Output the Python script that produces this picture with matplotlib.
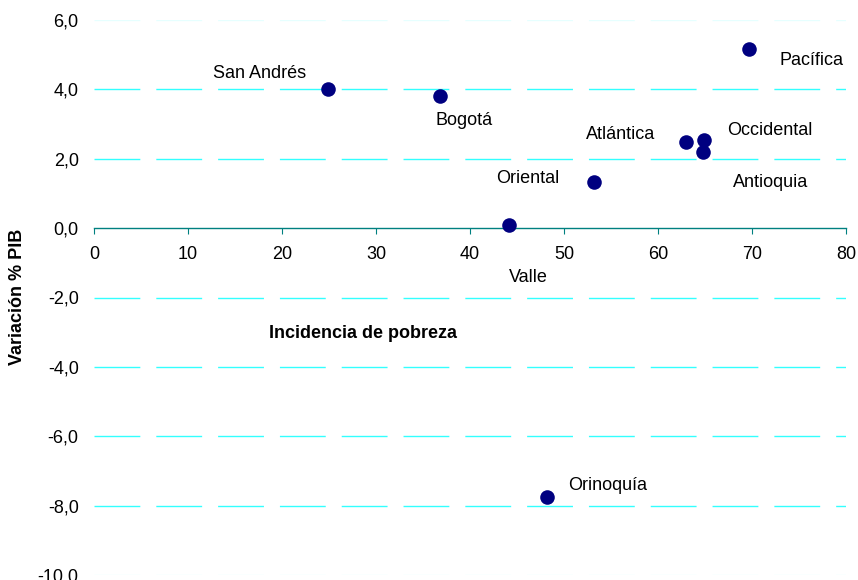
import numpy as np
import matplotlib
matplotlib.use("Agg")
import matplotlib.pyplot as plt

plt.rcParams['font.family'] = ['Liberation Sans', 'DejaVu Sans']

regiones = ['San Andrés', 'Bogotá', 'Pacífica', 'Atlántica', 'Occidental',
            'Antioquia', 'Oriental', 'Valle', 'Orinoquía']
pobreza = [24.9, 36.8, 69.7, 63.0, 64.9, 64.8, 53.2, 44.1, 48.2]
var_pib = [4.0, 3.81, 5.17, 2.49, 2.54, 2.20, 1.33, 0.09, -7.75]

# label offsets in pixels (dx, dy) from the point
offs = {'San Andrés': (-68, 16), 'Bogotá': (24, -25), 'Pacífica': (62, -12),
        'Atlántica': (-66, 7), 'Occidental': (66, 10), 'Antioquia': (67, -31),
        'Oriental': (-66, 3), 'Valle': (20, -52), 'Orinoquía': (61, 11)}

fig = plt.figure(figsize=(8.58, 5.8), dpi=100)
ax = fig.add_axes([94/858, 1-575/580, (846-94)/858, (575-20)/580])

ax.set_xlim(0, 80)
ax.set_ylim(-10, 6)
yt = np.arange(-10, 7, 2)
for y in yt:
    if y == 0:
        continue
    c = '#e6ffff' if y in (-10, 6) else '#33ffff'
    ax.axhline(y, color=c, lw=1, linestyle=(0, (33, 11.5)), zorder=1)

ax.scatter(pobreza, var_pib, s=110, color='#000080', zorder=3, linewidths=0)
for r, x, y in zip(regiones, pobreza, var_pib):
    dx, dy = offs[r]
    ax.annotate(r, (x, y), xytext=(dx*0.72, dy*0.72), textcoords='offset points',
                ha='center', va='center', fontsize=13)

for s in ['top', 'right', 'left']:
    ax.spines[s].set_visible(False)
ax.spines['bottom'].set_position(('data', 0))
ax.spines['bottom'].set_color('#008080')
ax.spines['bottom'].set_linewidth(1.0)
ax.set_xticks(np.arange(0, 81, 10))
ax.tick_params(axis='x', direction='out', length=4, color='#008080', pad=9, labelsize=13)
ax.set_yticks(yt)
ax.set_yticklabels([('%.1f' % v).replace('.', ',') for v in yt])
ax.tick_params(axis='y', length=0, pad=11, labelsize=13)

fig.text(18/858, 1-297/580, 'Variación % PIB', rotation=90, ha='center', va='center',
         fontsize=13, fontweight='bold')
fig.text(363/858, 1-334/580, 'Incidencia de pobreza', ha='center', va='center',
         fontsize=13, fontweight='bold')

fig.savefig('out.png', dpi=100)
